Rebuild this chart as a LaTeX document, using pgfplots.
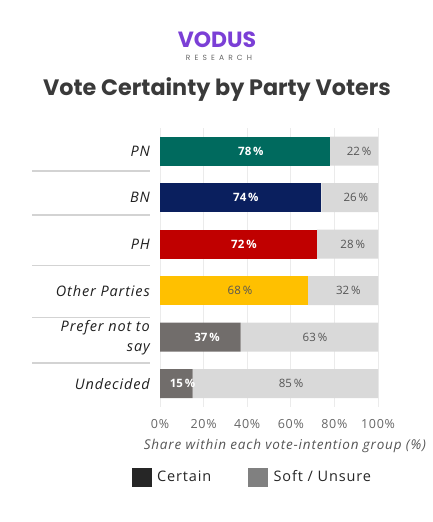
\documentclass[border=0pt]{standalone}
\usepackage{fontspec}
\setmainfont{Open Sans}
\newfontfamily\wide[LetterSpace=6]{Open Sans}
\newfontfamily\poppins{Poppins}
\newfontfamily\resfont[LetterSpace=55]{Poppins}
\usepackage{pgfplots}
\pgfplotsset{compat=1.18}
\usepackage{pgfplotstable}
\definecolor{cPN}{RGB}{0,106,94}
\definecolor{cBN}{RGB}{10,31,94}
\definecolor{cPH}{RGB}{192,0,0}
\definecolor{cOT}{RGB}{255,192,0}
\definecolor{cGR}{RGB}{113,109,107}
\definecolor{cSoft}{RGB}{217,217,217}
\definecolor{cGrid}{RGB}{235,235,235}
\definecolor{cSep}{RGB}{211,211,211}
\definecolor{cTitle}{RGB}{58,58,58}
\definecolor{cLab}{RGB}{85,85,85}
\definecolor{cTick}{RGB}{102,102,102}
\definecolor{cLogo}{RGB}{123,63,214}
\definecolor{legBlack}{RGB}{38,38,38}
\definecolor{legGray}{RGB}{128,128,128}

\pgfplotstableread{
idx certain soft
5 78 22
4 74 26
3 72 28
2 68 32
1 37 63
0 15 85
}\datatab

\pgfplotstableread{
x y lab
41.7 5 78
39.4 4 74
38.5 3 72
21.6 1 37
10.3 0 15
}\whitelabs

\pgfplotstableread{
x y lab
36.7 2 68
91.3 5 22
89.8 4 26
88.4 3 28
86.4 2 32
71.1 1 63
60.1 0 85
}\graylabs

\begin{document}
\begin{tikzpicture}
\useasboundingbox (0pt,0pt) rectangle (432pt,522pt);
% logo and title
\node[font={\poppins\bfseries\fontsize{22}{22}\selectfont}, text=cLogo] at (217pt,482pt) {VODUS};
\node[font={\resfont\fontsize{7.5}{7.5}\selectfont}, text=cTick] at (219pt,464pt) {RESEARCH};
\node[font={\poppins\bfseries\fontsize{22.3}{22.3}\selectfont}, text=cTitle] at (217pt,432pt) {Vote Certainty by Party Voters};

\begin{axis}[
  at={(160pt,115pt)}, anchor=south west,
  scale only axis, width=218pt, height=279pt,
  xbar stacked, bar width=29pt,
  xmin=0, xmax=100, ymin=-0.5, ymax=5.5,
  clip=false,
  axis line style={draw=none},
  tick style={draw=none},
  xmajorgrids, grid style={cGrid, line width=0.8pt},
  xtick={0,20,40,60,80,100},
  xticklabels={0\%,20\%,40\%,60\%,80\%,100\%},
  xticklabel style={font=\wide\fontsize{12.5}{12.5}\selectfont, text=cTick, yshift=-8.5pt},
  ytick={0,1,2,3,4,5},
  yticklabels={Undecided,{Prefer not to\\say},Other Parties,PH,BN,PN},
  yticklabel style={font={\wide\fontsize{14.5}{20}\selectfont\itshape}, text=black!88, align=right, inner sep=0pt, xshift=-10pt},
  xlabel={Share within each vote-intention group (\%)},
  xlabel style={font={\wide\fontsize{13.5}{13.5}\selectfont\itshape}, text=cLab, at={(axis description cs:0.573,-0.139)}, anchor=center},
  legend columns=2,
  legend style={draw=none, fill=none, inner sep=0pt, outer sep=0pt,
    at={(axis description cs:-0.13,-0.251)}, anchor=west,
    nodes={font=\wide\fontsize{14.5}{14.5}\selectfont, text=black!85, inner sep=0pt},
    /tikz/every odd column/.append style={column sep=6pt},
    /tikz/every even column/.append style={column sep=37pt}},
]
\addplot[fill=cPN, draw=none, forget plot] coordinates {(78,5) (0,4) (0,3) (0,2) (0,1) (0,0)};
\addplot[fill=cBN, draw=none, forget plot] coordinates {(0,5) (74,4) (0,3) (0,2) (0,1) (0,0)};
\addplot[fill=cPH, draw=none, forget plot] coordinates {(0,5) (0,4) (72,3) (0,2) (0,1) (0,0)};
\addplot[fill=cOT, draw=none, forget plot] coordinates {(0,5) (0,4) (0,3) (68,2) (0,1) (0,0)};
\addplot[fill=cGR, draw=none, forget plot] coordinates {(0,5) (0,4) (0,3) (0,2) (37,1) (15,0)};
\addplot[fill=cSoft, draw=none, forget plot] table[x=soft, y=idx] {\datatab};
\addlegendimage{legend image code/.code={\fill[legBlack] (0pt,-9pt) rectangle (19pt,9pt);}}
\addlegendentry{Certain}
\addlegendimage{legend image code/.code={\fill[legGray] (0pt,-9pt) rectangle (19pt,9pt);}}
\addlegendentry{Soft / Unsure}
% separators between category labels
\draw[cSep, line width=1.5pt] (axis cs:-58.7,4.57) -- (axis cs:-4.6,4.57);
\draw[cSep, line width=1.5pt] (axis cs:-58.7,3.63) -- (axis cs:-4.6,3.63);
\draw[cSep, line width=1.5pt] (axis cs:-58.7,2.54) -- (axis cs:-4.6,2.54);
\draw[cSep, line width=1.5pt] (axis cs:-58.7,1.42) -- (axis cs:-4.6,1.42);
\draw[cSep, line width=1.5pt] (axis cs:-58.7,0.45) -- (axis cs:-4.6,0.45);
\end{axis}

\begin{axis}[
  at={(160pt,115pt)}, anchor=south west,
  scale only axis, width=218pt, height=279pt,
  xmin=0, xmax=100, ymin=-0.5, ymax=5.5,
  hide axis, clip=false,
]
\addplot[only marks, mark=none, point meta=explicit symbolic,
  nodes near coords={\pgfplotspointmeta\,\%}, nodes near coords align=center,
  every node near coord/.append style={font=\bfseries\fontsize{11.5}{11.5}\selectfont, text=white}]
  table[x=x, y=y, meta=lab] {\whitelabs};
\addplot[only marks, mark=none, point meta=explicit symbolic,
  nodes near coords={\pgfplotspointmeta\,\%}, nodes near coords align=center,
  every node near coord/.append style={font=\fontsize{11.5}{11.5}\selectfont, text=cLab}]
  table[x=x, y=y, meta=lab] {\graylabs};
\end{axis}
\end{tikzpicture}
\end{document}
